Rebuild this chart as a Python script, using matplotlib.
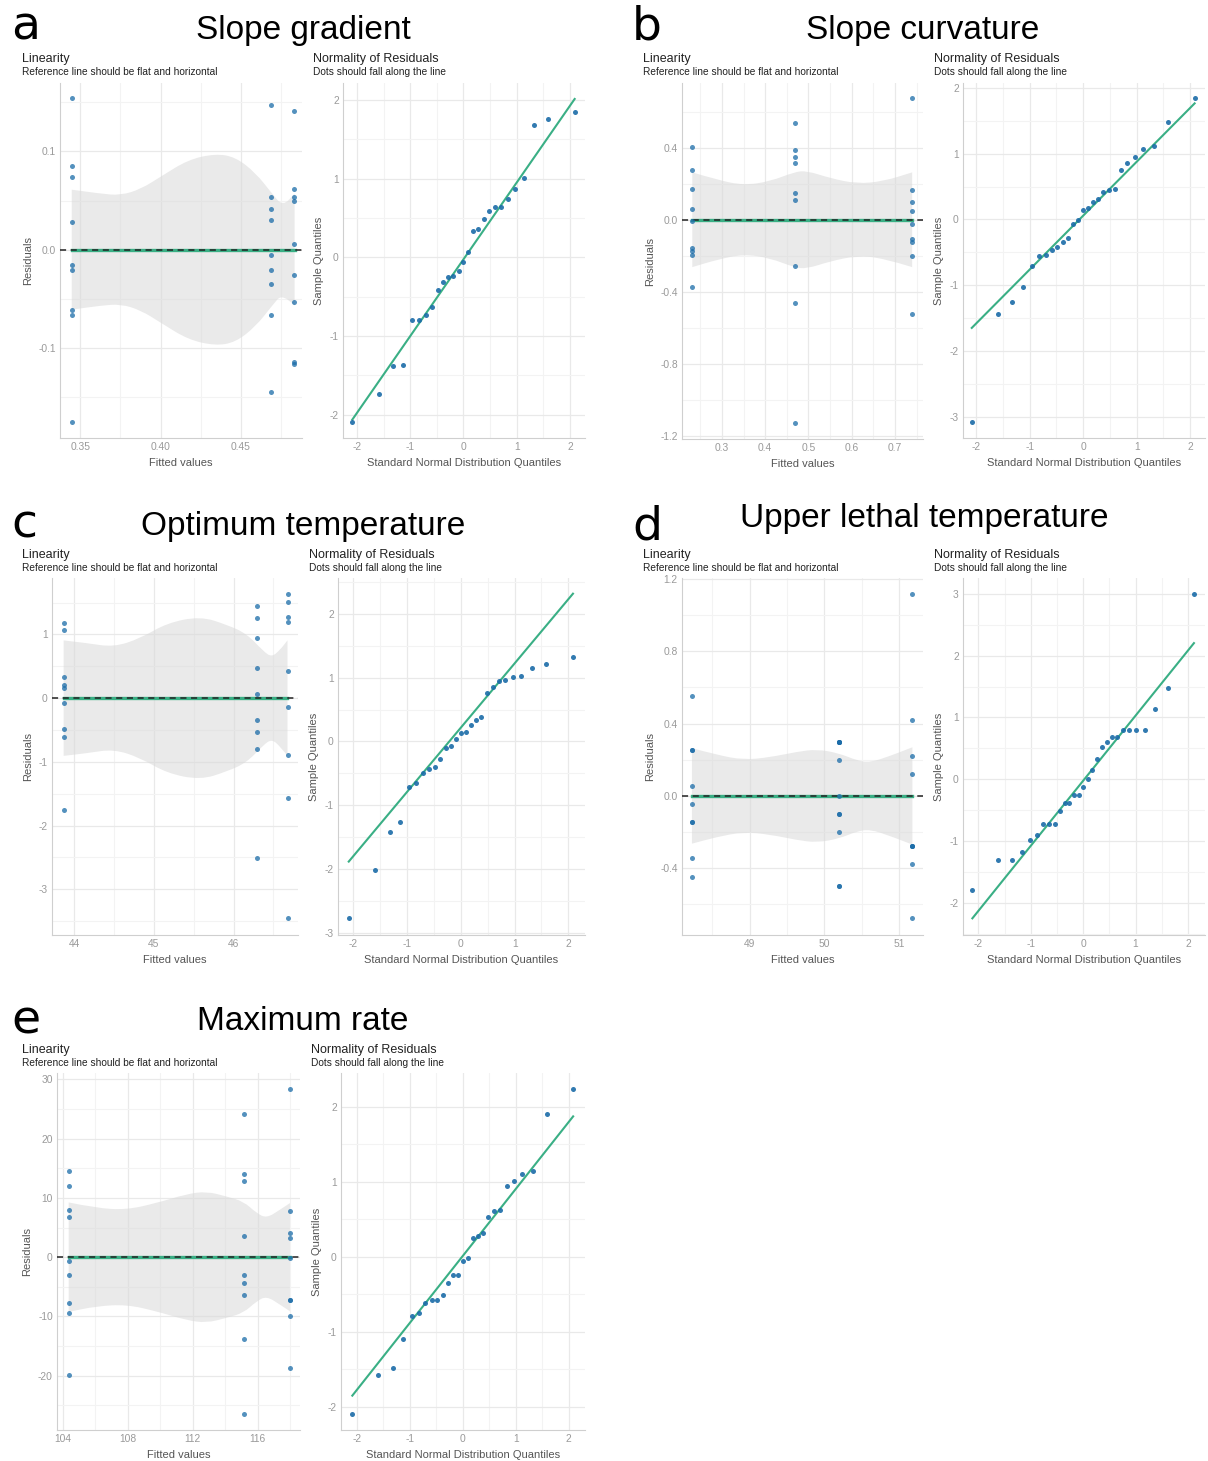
import matplotlib
matplotlib.use("Agg")
import matplotlib.pyplot as plt
from matplotlib.path import Path
from matplotlib.patches import PathPatch
from matplotlib.ticker import MultipleLocator, FormatStrFormatter

plt.rcParams['font.family'] = ['Liberation Sans', 'DejaVu Sans']
plt.rcParams['axes.unicode_minus'] = False

W, H = 1208, 1461
GREEN = "#3aaf85"
BLUE = "#1b6ca8"
GRID = "#e9e9e9"
GRID_MINOR = "#f3f3f3"

# theoretical normal quantiles (x axis of the QQ plots)
q27 = [-2.086, -1.593, -1.325, -1.128, -0.967, -0.828, -0.704, -0.589, -0.482,
       -0.380, -0.282, -0.187, -0.093, 0.0, 0.093, 0.187, 0.282, 0.380, 0.482,
       0.589, 0.704, 0.828, 0.967, 1.128, 1.325, 1.593, 2.086]
q29 = [-2.114, -1.628, -1.364, -1.171, -1.015, -0.879, -0.758, -0.647, -0.544,
       -0.447, -0.353, -0.262, -0.174, -0.087, 0.0, 0.087, 0.174, 0.262, 0.353,
       0.447, 0.544, 0.647, 0.758, 0.879, 1.015, 1.171, 1.364, 1.628, 2.114]

# ---- a: Slope gradient
a_fitted = [0.3448, 0.469, 0.483]
a_resid = [[0.154, 0.0847, 0.0736, 0.0278, -0.0153, -0.0203, -0.0617, -0.0661, -0.1756],
           [0.147, 0.0536, 0.0414, 0.0305, -0.0051, -0.021, -0.0349, -0.0661, -0.145],
           [0.141, 0.0617, 0.0536, 0.049, 0.0058, -0.0261, -0.0536, -0.1146, -0.116]]
a_band_x = [0.3447, 0.3626, 0.3752, 0.3878, 0.4004, 0.4172, 0.434, 0.4466, 0.4592, 0.4691, 0.476, 0.4834]
a_band_hw = [0.061, 0.0569, 0.0553, 0.0617, 0.0746, 0.0915, 0.0976, 0.0942, 0.078, 0.0576, 0.0441, 0.0569]
a_qq = [-2.097, -1.733, -1.386, -1.369, -0.792, -0.792, -0.737, -0.636, -0.419, -0.314,
        -0.254, -0.242, -0.178, -0.059, 0.068, 0.335, 0.364, 0.492, 0.589, 0.636, 0.636,
        0.737, 0.873, 1.008, 1.682, 1.758, 1.843]
a_qq_line = [-2.064, 2.013]

# ---- b: Slope curvature
b_fitted = [0.2315, 0.468, 0.74]
b_resid = [[0.406, 0.274, 0.170, 0.061, -0.006, -0.157, -0.172, -0.196, -0.374],
           [0.539, 0.389, 0.346, 0.315, 0.15, 0.111, -0.259, -0.461, -1.126],
           [0.676, 0.165, 0.096, 0.05, -0.026, -0.107, -0.122, -0.2, -0.524]]
b_band_x = [0.2315, 0.2885, 0.35, 0.4115, 0.4677, 0.4962, 0.55, 0.6115, 0.673, 0.74]
b_band_hw = [0.263, 0.222, 0.191, 0.213, 0.265, 0.272, 0.231, 0.2, 0.213, 0.263]
b_qq = [-3.086, -1.431, -1.259, -1.025, -0.706, -0.558, -0.538, -0.467, -0.421, -0.340,
        -0.289, -0.071, -0.015, 0.137, 0.168, 0.264, 0.305, 0.411, 0.452, 0.467, 0.746,
        0.863, 0.949, 1.066, 1.112, 1.482, 1.853]
b_qq_line = [-1.65, 1.766]

# ---- c: Optimum temperature
c_fitted = [43.866, 46.30, 46.68]
c_resid = [[1.178, 1.063, 0.325, 0.199, 0.162, -0.079, -0.487, -0.613, -1.754],
           [1.44, 1.251, 0.937, 0.471, 0.058, -0.34, -0.539, -0.801, -2.503],
           [1.639, 1.508, 1.272, 1.188, 0.419, -0.141, -0.885, -1.571, -3.455]]
c_band_x = [43.866, 44.159, 44.494, 44.828, 45.163, 45.582, 45.916, 46.167, 46.377, 46.481, 46.586, 46.678]
c_band_hw = [0.906, 0.864, 0.801, 0.937, 1.178, 1.283, 1.152, 1.01, 0.733, 0.644, 0.759, 0.906]
c_qq = [-2.775, -2.016, -1.414, -1.257, -0.712, -0.644, -0.492, -0.435, -0.393, -0.272,
        -0.110, -0.068, 0.042, 0.126, 0.152, 0.262, 0.335, 0.382, 0.754, 0.853, 0.942,
        0.958, 1.01, 1.021, 1.157, 1.215, 1.319]
c_qq_line = [-1.885, 2.319]

# ---- d: Upper lethal temperature
d_fitted = [48.229, 50.196, 51.178]
d_resid = [[0.553, 0.255, 0.255, 0.054, -0.046, -0.146, -0.146, -0.345, -0.446],
           [0.299, 0.299, 0.299, 0.299, 0.199, 0.0, -0.101, -0.101, -0.201, -0.498, -0.498],
           [1.118, 0.421, 0.22, 0.122, -0.277, -0.277, -0.277, -0.378, -0.677]]
d_band_x = [48.229, 48.563, 48.92, 49.276, 49.633, 49.9, 50.198, 50.434, 50.612, 50.88, 51.178]
d_band_hw = [0.264, 0.227, 0.199, 0.214, 0.244, 0.258, 0.236, 0.196, 0.185, 0.221, 0.269]
d_qq = [-1.80, -1.31, -1.31, -1.18, -0.99, -0.91, -0.73, -0.73, -0.73, -0.52, -0.38,
        -0.38, -0.26, -0.26, -0.12, 0.0, 0.15, 0.33, 0.53, 0.60, 0.69, 0.69, 0.79, 0.79,
        0.79, 0.79, 1.13, 1.48, 3.0]
d_qq_line = [-2.254, 2.205]

# ---- e: Maximum rate
e_fitted = [104.35, 115.13, 117.99]
e_resid = [[14.57, 11.93, 7.88, 6.70, -0.73, -2.98, -7.71, -9.45, -19.87],
           [24.14, 14.01, 12.77, 3.49, -3.04, -4.39, -6.42, -13.79, -26.45],
           [28.36, 7.82, 4.11, 3.21, -0.17, -7.2, -7.2, -9.9, -18.63]]
e_band_x = [104.35, 106.06, 107.91, 109.76, 111.61, 112.85, 114.08, 115.13, 115.93, 116.55, 117.37, 117.99]
e_band_hw = [9.23, 8.27, 7.99, 9.12, 10.64, 11.09, 10.24, 9.4, 7.43, 6.58, 7.99, 9.12]
e_qq = [-2.093, -1.573, -1.476, -1.089, -0.787, -0.747, -0.613, -0.573, -0.573, -0.507,
        -0.351, -0.244, -0.24, -0.058, -0.013, 0.249, 0.271, 0.32, 0.524, 0.613, 0.618,
        0.938, 1.004, 1.102, 1.147, 1.902, 2.236]
e_qq_line = [-1.849, 1.871]

fig = plt.figure(figsize=(W / 100, H / 100), dpi=100)


def box(l, t, r, b):
    return [l / W, 1 - b / H, (r - l) / W, (b - t) / H]


def txt(x, y, s, **kw):
    fig.text(x / W, 1 - y / H, s, va='baseline', **kw)


def style(ax, xlim, ylim, xmaj, xmin, ymaj, ymin, xfmt, yfmt):
    ax.set_xlim(*xlim)
    ax.set_ylim(*ylim)
    ax.xaxis.set_major_locator(MultipleLocator(xmaj))
    ax.xaxis.set_minor_locator(MultipleLocator(xmin))
    ax.yaxis.set_major_locator(MultipleLocator(ymaj))
    ax.yaxis.set_minor_locator(MultipleLocator(ymin))
    ax.xaxis.set_major_formatter(FormatStrFormatter(xfmt))
    ax.yaxis.set_major_formatter(FormatStrFormatter(yfmt))
    ax.grid(True, which='major', color=GRID, lw=0.9)
    ax.grid(True, which='minor', color=GRID_MINOR, lw=0.8)
    ax.set_axisbelow(True)
    for s in ['top', 'right']:
        ax.spines[s].set_visible(False)
    for s in ['left', 'bottom']:
        ax.spines[s].set_color('#cfcfcf')
        ax.spines[s].set_linewidth(0.8)
    ax.tick_params(which='both', length=0, labelsize=7.4, labelcolor='#9a9a9a', pad=3)


def smooth_edge(xs, ys):
    # quadratic bezier through the midpoints, read points act as control points
    verts = [(xs[0], ys[0])]
    codes = [Path.LINETO]
    for i in range(1, len(xs) - 1):
        verts += [(xs[i], ys[i]), ((xs[i] + xs[i + 1]) / 2, (ys[i] + ys[i + 1]) / 2)]
        codes += [Path.CURVE3, Path.CURVE3]
    verts.append((xs[-1], ys[-1]))
    codes.append(Path.LINETO)
    return verts, codes


def band(ax, bx, hw):
    v1, c1 = smooth_edge(bx, hw)
    v2, c2 = smooth_edge(bx[::-1], [-h for h in hw[::-1]])
    c1[0] = Path.MOVETO
    verts = v1 + [(bx[-1], -hw[-1])] + v2 + [(bx[0], hw[0])]
    codes = c1 + [Path.LINETO] + c2 + [Path.CLOSEPOLY]
    ax.add_patch(PathPatch(Path(verts, codes), facecolor='#d9d9d9', alpha=0.55, lw=0, zorder=2))


def linearity(pos, fitted, resid, band_x, band_hw, lims, ticks, fmts):
    ax = fig.add_axes(box(*pos))
    style(ax, lims[0], lims[1], *ticks, *fmts)
    band(ax, band_x, band_hw)
    ax.plot([band_x[0], band_x[-1]], [0, 0], color=GREEN, lw=2.4, zorder=3)
    ax.axhline(0, color='#222222', lw=1.1, ls=(0, (4, 3)), zorder=4)
    for fx, rs in zip(fitted, resid):
        ax.scatter([fx] * len(rs), rs, s=13, color=BLUE, alpha=0.75, lw=0, zorder=5)
    ax.set_xlabel("Fitted values", fontsize=8, color='#555555', labelpad=4)
    ax.set_ylabel("Residuals", fontsize=8, color='#555555', labelpad=4)
    return ax


def qqplot(pos, theo, sample, line, lims):
    ax = fig.add_axes(box(*pos))
    style(ax, lims[0], lims[1], 1, 0.5, 1, 0.5, '%d', '%d')
    ax.plot([theo[0], theo[-1]], line, color=GREEN, lw=1.5, zorder=3)
    ax.scatter(theo, sample, s=13, color=BLUE, alpha=0.9, lw=0, zorder=5)
    ax.set_xlabel("Standard Normal Distribution Quantiles", fontsize=8, color='#555555', labelpad=4)
    ax.set_ylabel("Sample Quantiles", fontsize=8, color='#555555', labelpad=4)
    return ax


def headers(letter, title, lx, ly, tx, ty, lin_x, qq_x, sy):
    txt(lx, ly, letter, fontsize=34, family='DejaVu Sans', color='black')
    txt(tx, ty, title, fontsize=24, ha='center', color='black')
    for x, t1, t2 in [(lin_x, "Linearity", "Reference line should be flat and horizontal"),
                      (qq_x, "Normality of Residuals", "Dots should fall along the line")]:
        txt(x, sy, t1, fontsize=9, color='#222222')
        txt(x, sy + 13, t2, fontsize=7.3, color='#222222')


# panel a
headers("a", "Slope gradient", 11, 40, 303, 39, 22, 313, 62)
linearity((60, 83, 302, 438), a_fitted, a_resid, a_band_x, a_band_hw,
          ((0.3374, 0.488), (-0.1915, 0.1695)), (0.05, 0.025, 0.1, 0.05), ('%.2f', '%.1f'))
qqplot((343, 83, 585, 438), q27, a_qq, a_qq_line, ((-2.26, 2.28), (-2.297, 2.216)))

# panel b
headers("b", "Slope curvature", 632, 40, 923, 39, 643, 934, 62)
linearity((682, 83, 923, 439), b_fitted, b_resid, b_band_x, b_band_hw,
          ((0.2077, 0.765), (-1.217, 0.759)), (0.1, 0.05, 0.4, 0.2), ('%.1f', '%.1f'))
qqplot((963, 83, 1205, 438), q27, b_qq, b_qq_line, ((-2.25, 2.28), (-3.325, 2.076)))

# panel c
headers("c", "Optimum temperature", 11, 538, 303, 535, 22, 309, 558)
linearity((52, 578, 298, 935), c_fitted, c_resid, c_band_x, c_band_hw,
          ((43.72, 46.81), (-3.717, 1.885)), (1, 0.5, 1, 0.5), ('%d', '%d'))
qqplot((338, 578, 585, 935), q27, c_qq, c_qq_line, ((-2.286, 2.31), (-3.037, 2.565)))

# panel d
headers("d", "Upper lethal temperature", 632, 540, 924, 527, 643, 934, 558)
linearity((682, 578, 923, 935), d_fitted, d_resid, d_band_x, d_band_hw,
          ((48.096, 51.32), (-0.769, 1.205)), (1, 0.5, 0.4, 0.2), ('%d', '%.1f'))
qqplot((963, 578, 1205, 935), q29, d_qq, d_qq_line, ((-2.293, 2.325), (-2.524, 3.26)))

# panel e
headers("e", "Maximum rate", 11, 1033, 303, 1030, 22, 311, 1053)
linearity((57, 1073, 300, 1430), e_fitted, e_resid, e_band_x, e_band_hw,
          ((103.63, 118.61), (-29.15, 31.06)), (4, 2, 10, 5), ('%d', '%d'))
qqplot((341, 1073, 585, 1430), q27, e_qq, e_qq_line, ((-2.30, 2.31), (-2.307, 2.449)))

fig.savefig("out.png", dpi=100)
